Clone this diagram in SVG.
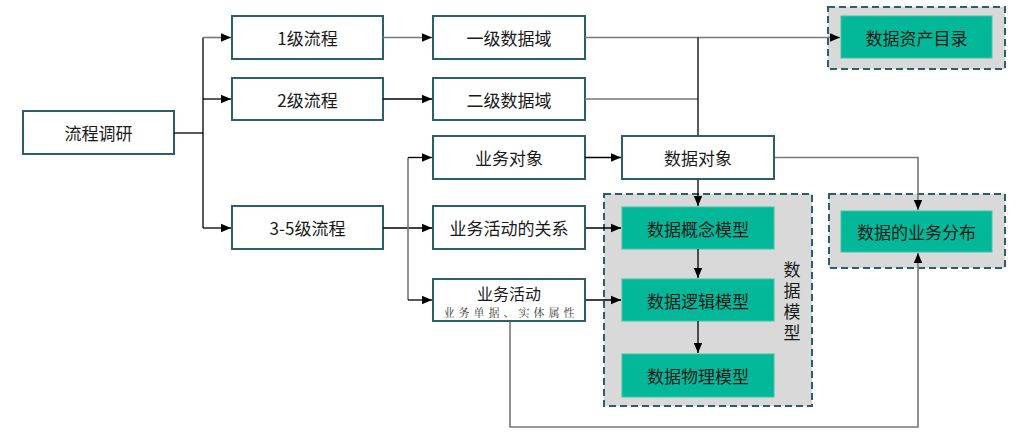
<svg xmlns="http://www.w3.org/2000/svg" width="1024" height="442" viewBox="0 0 1024 442">
<style>
.box{fill:#fff;stroke:#2C5F6D;stroke-width:2}
.grn{fill:#03B898;stroke:#3CC4A6;stroke-width:1}
.grp{fill:#D9D9D9;stroke:#2C5F6D;stroke-width:2;stroke-dasharray:7,4}
.t{font-family:"Noto Sans CJK SC","Microsoft YaHei",sans-serif;font-size:17px;fill:#1a1a1a;text-anchor:middle;dominant-baseline:central}
.v{font-family:"Noto Sans CJK SC",sans-serif;font-size:17px;fill:#1a1a1a;writing-mode:vertical-rl;text-anchor:middle;letter-spacing:4px}
.s{font-family:"Noto Serif CJK SC","Noto Sans CJK SC",serif;font-size:11px;fill:#333;text-anchor:middle;dominant-baseline:central;letter-spacing:4px}
.ln{fill:none;stroke:#000;stroke-width:1.3}
.lg{fill:none;stroke:#777;stroke-width:1.6}
</style>
<defs>
<marker id="ah" markerUnits="userSpaceOnUse" markerWidth="10" markerHeight="10" viewBox="0 0 10 10" refX="10" refY="5" orient="auto">
<path d="M0,0.8 L10,5 L0,9.2 Z" fill="#000"/>
</marker>
</defs>
<g id="n-lcdy"><rect class="box" x="23" y="111" width="151" height="43"/><text class="t" x="98.5" y="132.5">流程调研</text></g>
<g id="n-l1"><rect class="box" x="232" y="16" width="151" height="43"/><text class="t" x="307.5" y="37.5">1级流程</text></g>
<g id="n-l2"><rect class="box" x="232" y="78" width="151" height="42"/><text class="t" x="307.5" y="99">2级流程</text></g>
<g id="n-l35"><rect class="box" x="232" y="206" width="151" height="43"/><text class="t" x="307.5" y="227.5">3-5级流程</text></g>
<g id="n-d1"><rect class="box" x="433" y="16" width="152" height="43"/><text class="t" x="509" y="37.5">一级数据域</text></g>
<g id="n-d2"><rect class="box" x="433" y="78" width="152" height="42"/><text class="t" x="509" y="99">二级数据域</text></g>
<g id="n-ywdx"><rect class="box" x="433" y="136" width="152" height="43"/><text class="t" x="509" y="157.5">业务对象</text></g>
<g id="n-ywhdgx"><rect class="box" x="433" y="206" width="152" height="43"/><text class="t" x="509" y="227.5">业务活动的关系</text></g>
<g id="n-ywhd"><rect class="box" x="433" y="279" width="152" height="42"/><text class="t" x="509" y="293" style="font-size:16px">业务活动</text><text class="s" x="511" y="312">业务单据、实体属性</text></g>
<g id="n-sjdx"><rect class="box" x="622" y="136" width="152" height="43"/><text class="t" x="698" y="157.5">数据对象</text></g>
<g id="n-zcml"><rect class="grp" x="828" y="7" width="177" height="62"/><rect class="grn" x="841" y="16" width="151" height="42"/><text class="t" x="916.5" y="37">数据资产目录</text></g>
<g id="n-ywfb"><rect class="grp" x="829" y="194" width="176" height="74"/><rect class="grn" x="841" y="211" width="151" height="41"/><text class="t" x="916.5" y="231.5">数据的业务分布</text></g>
<g id="n-sjmx"><rect class="grp" x="604" y="194" width="208" height="212"/>
<text class="v" x="792" y="303">数据模型</text></g>
<g id="n-gn"><rect class="grn" x="622" y="207" width="152" height="42"/><text class="t" x="698" y="228">数据概念模型</text></g>
<g id="n-lj"><rect class="grn" x="622" y="279" width="152" height="42"/><text class="t" x="698" y="300">数据逻辑模型</text></g>
<g id="n-wl"><rect class="grn" x="622" y="354" width="152" height="43"/><text class="t" x="698" y="375.5">数据物理模型</text></g>
<g id="connectors">
<path class="ln" d="M174,133 H203"/>
<path class="ln" d="M203,37.5 V228"/>
<path class="lg" d="M203,37.5 H231" marker-end="url(#ah)"/>
<path class="ln" d="M203,99 H231" marker-end="url(#ah)"/>
<path class="ln" d="M203,228 H231" marker-end="url(#ah)"/>
<path class="lg" d="M383,37.5 H432" marker-end="url(#ah)"/>
<path class="ln" d="M383,99 H432" marker-end="url(#ah)"/>
<path class="ln" d="M383,228 H432" marker-end="url(#ah)"/>
<path class="lg" d="M408,157.5 V300"/>
<path class="ln" d="M408,157.5 H432" marker-end="url(#ah)"/>
<path class="ln" d="M408,300 H432" marker-end="url(#ah)"/>
<path class="lg" d="M585,37.5 H840" marker-end="url(#ah)"/>
<path class="lg" d="M585,99 H698"/>
<path class="ln" d="M698,37.5 V135"/>
<path class="ln" d="M585,157.5 H621" marker-end="url(#ah)"/>
<path class="lg" d="M775,157.5 H918 V210" marker-end="url(#ah)"/>
<path class="ln" d="M698,180 V206" marker-end="url(#ah)"/>
<path class="ln" d="M586,228 H621" marker-end="url(#ah)"/>
<path class="ln" d="M586,300 H621" marker-end="url(#ah)"/>
<path class="ln" d="M698,249 V278" marker-end="url(#ah)"/>
<path class="ln" d="M698,321 V353" marker-end="url(#ah)"/>
<path class="lg" d="M510,322 V427 H918 V253" marker-end="url(#ah)"/>
</g>
</svg>
